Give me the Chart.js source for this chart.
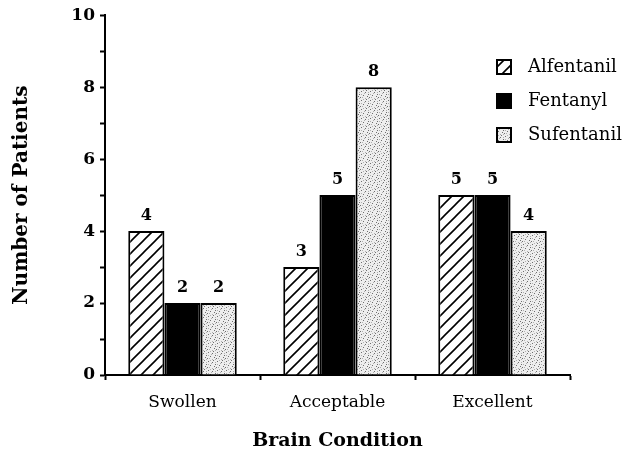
<!DOCTYPE html>
<html>
<head>
<meta charset="utf-8">
<script src="https://cdn.jsdelivr.net/npm/chart.js@4"></script>
<style>
  body { margin: 0; background: #fff; }
  #wrap { width: 626px; height: 460px; position: relative; }
</style>
</head>
<body>
<div id="wrap"><canvas id="chart"></canvas></div>
<script>
const categories = ['Swollen', 'Acceptable', 'Excellent'];
const seriesNames = ['Alfentanil', 'Fentanyl', 'Sufentanil'];
const alfentanil = [4, 3, 5];
const fentanyl = [2, 5, 5];
const sufentanil = [2, 8, 4];
const yTicks = [0, 2, 4, 6, 8, 10];

const serif = "'DejaVu Serif', 'Liberation Serif', serif";

// fill patterns
function hatchPattern() {
    const c = document.createElement('canvas');
    c.width = 12; c.height = 12;
    const g = c.getContext('2d');
    g.fillStyle = '#fff';
    g.fillRect(0, 0, 12, 12);
    g.strokeStyle = '#000';
    g.lineWidth = 1.6;
    g.beginPath();
    g.moveTo(-3, 15); g.lineTo(15, -3);
    g.moveTo(-9, 9); g.lineTo(9, -9);
    g.moveTo(3, 21); g.lineTo(21, 3);
    g.stroke();
    return g.createPattern(c, 'repeat');
}

function stipplePattern() {
    const c = document.createElement('canvas');
    c.width = 9; c.height = 9;
    const g = c.getContext('2d');
    g.fillStyle = '#eeeeee';
    g.fillRect(0, 0, 9, 9);
    g.fillStyle = '#6e6e6e';
    [[1, 1], [5, 2], [3, 5], [7, 6], [0, 7], [6, 0], [8, 4]].forEach(p => g.fillRect(p[0], p[1], 1, 1));
    g.fillStyle = '#b0b0b0';
    [[3, 0], [8, 2], [1, 4], [5, 8], [8, 8], [4, 3], [2, 7]].forEach(p => g.fillRect(p[0], p[1], 1, 1));
    return g.createPattern(c, 'repeat');
}

const fills = [hatchPattern(), '#000', stipplePattern()];

// numbers on top of the bars
const valueLabels = {
    id: 'valueLabels',
    afterDatasetsDraw(chart) {
        const ctx = chart.ctx;
        ctx.save();
        ctx.font = 'bold 16px ' + serif;
        ctx.fillStyle = '#000';
        ctx.textAlign = 'center';
        ctx.textBaseline = 'alphabetic';
        chart.data.datasets.forEach((ds, i) => {
            chart.getDatasetMeta(i).data.forEach((bar, j) => {
                ctx.fillText(ds.data[j], bar.x, bar.y - 11);
            });
        });
        ctx.restore();
    }
};

// legend in the top right corner
const boxLegend = {
    id: 'boxLegend',
    afterDraw(chart) {
        const ctx = chart.ctx;
        ctx.save();
        ctx.font = '18px ' + serif;
        ctx.textBaseline = 'middle';
        chart.data.datasets.forEach((ds, i) => {
            const y = 67 + i * 34;
            ctx.fillStyle = ds.backgroundColor;
            ctx.fillRect(497, y - 7, 14, 14);
            ctx.strokeStyle = '#000';
            ctx.lineWidth = 2;
            ctx.strokeRect(497, y - 7, 14, 14);
            ctx.fillStyle = '#000';
            ctx.fillText(ds.label, 528, y);
        });
        ctx.restore();
    }
};

new Chart(document.getElementById('chart'), {
    type: 'bar',
    data: {
        labels: categories,
        datasets: [alfentanil, fentanyl, sufentanil].map((vals, i) => ({
            label: seriesNames[i],
            data: vals,
            backgroundColor: fills[i],
            borderColor: '#000',
            borderWidth: 2,
            borderSkipped: 'bottom',
            categoryPercentage: 0.7,
            barPercentage: 1.0
        }))
    },
    options: {
        responsive: true,
        maintainAspectRatio: false,
        animation: false,
        layout: { padding: { top: 15, right: 56, left: 0, bottom: 0 } },
        plugins: {
            legend: { display: false },
            tooltip: { enabled: false }
        },
        scales: {
            x: {
                afterFit: s => { s.height = 85; },
                grid: {
                    offset: true,
                    drawOnChartArea: false,
                    drawTicks: true,
                    tickLength: 5,
                    tickColor: '#000',
                    tickWidth: 2
                },
                border: { display: true, color: '#000', width: 2 },
                ticks: {
                    color: '#000',
                    font: { family: serif, size: 17 },
                    padding: 12
                },
                title: {
                    display: true,
                    text: 'Brain Condition',
                    color: '#000',
                    font: { family: serif, size: 19, weight: 'bold' },
                    padding: { top: 0, bottom: 8 }
                }
            },
            y: {
                min: 0,
                max: 10,
                afterFit: s => { s.width = 105; },
                grid: {
                    drawOnChartArea: false,
                    drawTicks: true,
                    tickLength: 5,
                    tickColor: '#000',
                    tickWidth: 2
                },
                border: { display: true, color: '#000', width: 2 },
                ticks: {
                    stepSize: 1,
                    color: '#000',
                    font: { family: serif, size: 17, weight: 'bold' },
                    padding: 5,
                    callback: v => yTicks.includes(v) ? String(v) : ''
                },
                title: {
                    display: true,
                    text: 'Number of Patients',
                    color: '#000',
                    font: { family: serif, size: 20, weight: 'bold' },
                    padding: { top: 10, bottom: 0 }
                }
            }
        }
    },
    plugins: [valueLabels, boxLegend]
});
</script>
</body>
</html>
